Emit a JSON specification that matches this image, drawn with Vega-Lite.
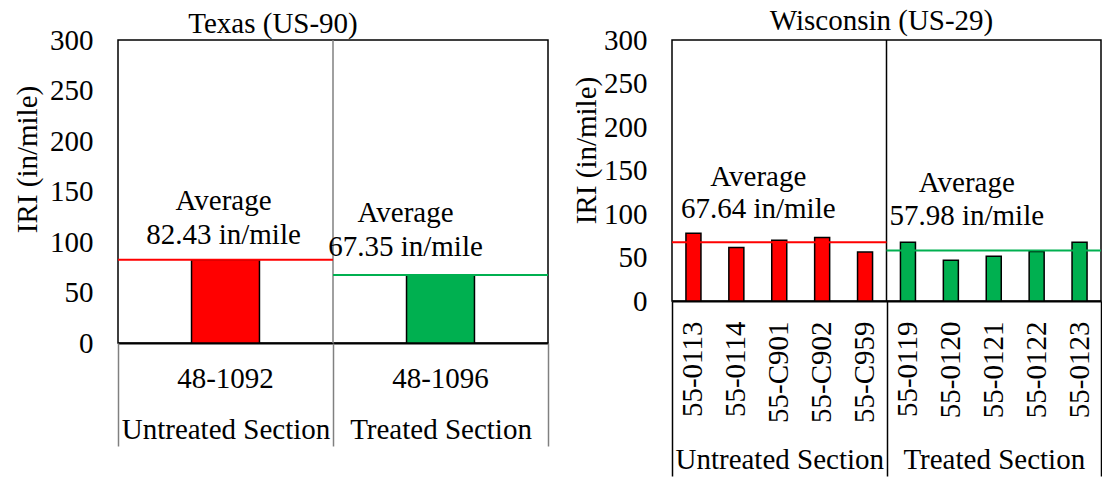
{
  "$schema": "https://vega.github.io/schema/vega-lite/v6.json",
  "padding": {"left": 12, "top": 6, "right": 0, "bottom": 0},
  "spacing": 124,
  "bounds": "flush",
  "datasets": {
    "tx": [
      {"section": "48-1092", "group": "Untreated Section", "iri": 82.43},
      {"section": "48-1096", "group": "Treated Section", "iri": 67.35}
    ],
    "txavg": [
      {"group": "Untreated Section", "avg": 82.43, "label": "Average\n82.43 in/mile"},
      {"group": "Treated Section", "avg": 67.35, "label": "Average\n67.35 in/mile"}
    ],
    "wi": [
      {"section": "55-0113", "group": "Untreated Section", "iri": 77.8},
      {"section": "55-0114", "group": "Untreated Section", "iri": 61.5},
      {"section": "55-C901", "group": "Untreated Section", "iri": 69.8},
      {"section": "55-C902", "group": "Untreated Section", "iri": 72.9},
      {"section": "55-C959", "group": "Untreated Section", "iri": 56.2},
      {"section": "55-0119", "group": "Treated Section", "iri": 67.4},
      {"section": "55-0120", "group": "Treated Section", "iri": 46.8},
      {"section": "55-0121", "group": "Treated Section", "iri": 51.4},
      {"section": "55-0122", "group": "Treated Section", "iri": 56.9},
      {"section": "55-0123", "group": "Treated Section", "iri": 67.4}
    ],
    "wiavg": [
      {"group": "Untreated Section", "avg": 67.64, "label": "Average\n67.64 in/mile"},
      {"group": "Treated Section", "avg": 57.98, "label": "Average\n57.98 in/mile"}
    ]
  },
  "hconcat": [
    {
      "width": 430,
      "height": 303,
      "title": {"text": "Texas (US-90)", "dx": -60, "offset": -42, "baseline": "bottom"},
      "resolve": {"scale": {"x": "independent"}, "axis": {"x": "independent"}},
      "layer": [
        {
          "data": {"name": "tx"},
          "mark": {"type": "bar", "stroke": "black", "strokeWidth": 1.5},
          "encoding": {
            "x": {"field": "section", "type": "nominal", "sort": null,
                  "scale": {"paddingInner": 0.684, "paddingOuter": 0.342},
                  "axis": {"title": null, "labelAngle": 0, "ticks": false, "tickSize": 0, "labelPadding": 21, "domainColor": "black", "domainWidth": 2}},
            "y": {"field": "iri", "type": "quantitative", "title": "IRI (in/mile)",
                  "scale": {"domain": [0, 300], "nice": false},
                  "axis": {"values": [0, 50, 100, 150, 200, 250, 300], "ticks": false, "domain": false, "labelPadding": 25,
                           "titleX": -91, "titleY": 119, "titleAngle": -90, "titleAlign": "center", "titleBaseline": "middle"}},
            "color": {"field": "group", "type": "nominal",
                      "scale": {"domain": ["Untreated Section", "Treated Section"], "range": ["#ff0000", "#00b050"]}, "legend": null}
          }
        },
        {
          "data": {"name": "txavg"},
          "layer": [
            {
              "mark": {"type": "rule", "color": "#808080", "strokeWidth": 1.5},
              "transform": [{"filter": "datum.group === 'Treated Section'"}],
              "encoding": {
                "x": {"field": "group", "type": "nominal", "bandPosition": 0, "title": null,
                      "scale": {"domain": ["Untreated Section", "Treated Section"], "paddingInner": 0, "paddingOuter": 0}}
              }
            },
            {
              "mark": {"type": "rect", "fillOpacity": 0, "strokeWidth": 2},
              "encoding": {
                "x": {"field": "group", "type": "nominal", "title": null,
                      "scale": {"domain": ["Untreated Section", "Treated Section"], "paddingInner": 0, "paddingOuter": 0},
                      "axis": {"orient": "bottom", "labelAngle": 0, "labelAlign": "center", "labelFlush": false, "domain": false, "tickBand": "extent", "tickSize": 103,
                               "tickColor": "#808080", "tickWidth": 1.5, "labelPadding": -17}},
                "y": {"field": "avg", "type": "quantitative", "title": "IRI (in/mile)"},
                "y2": {"field": "avg"},
                "stroke": {"field": "group", "type": "nominal",
                           "scale": {"domain": ["Untreated Section", "Treated Section"], "range": ["#ff0000", "#00b050"]}, "legend": null}
              }
            },
            {
              "mark": {"type": "text", "lineBreak": "\n", "baseline": "bottom", "lineHeight": 34, "dy": -43.5, "dx": -2},
              "transform": [{"filter": "datum.group === 'Untreated Section'"}],
              "encoding": {
                "x": {"field": "group", "type": "nominal", "title": null,
                      "scale": {"domain": ["Untreated Section", "Treated Section"], "paddingInner": 0, "paddingOuter": 0}},
                "y": {"field": "avg", "type": "quantitative", "title": "IRI (in/mile)"},
                "text": {"field": "label"}
              }
            },
            {
              "mark": {"type": "text", "lineBreak": "\n", "baseline": "bottom", "lineHeight": 34, "dy": -47, "dx": -35},
              "transform": [{"filter": "datum.group === 'Treated Section'"}],
              "encoding": {
                "x": {"field": "group", "type": "nominal", "title": null,
                      "scale": {"domain": ["Untreated Section", "Treated Section"], "paddingInner": 0, "paddingOuter": 0}},
                "y": {"field": "avg", "type": "quantitative", "title": "IRI (in/mile)"},
                "text": {"field": "label"}
              }
            }
          ]
        }
      ]
    },
    {
      "width": 429,
      "height": 261,
      "title": {"text": "Wisconsin (US-29)", "dx": -5, "offset": -39, "baseline": "bottom"},
      "resolve": {"scale": {"x": "independent"}, "axis": {"x": "independent"}},
      "layer": [
        {
          "data": {"name": "wi"},
          "mark": {"type": "bar", "stroke": "black", "strokeWidth": 1.5},
          "encoding": {
            "x": {"field": "section", "type": "nominal", "sort": null,
                  "scale": {"paddingInner": 0.65, "paddingOuter": 0.325},
                  "axis": {"title": null, "labelAngle": -90, "ticks": false, "tickSize": 0, "labelPadding": 20, "domainColor": "black", "domainWidth": 2}},
            "y": {"field": "iri", "type": "quantitative", "title": "IRI (in/mile)",
                  "scale": {"domain": [0, 300], "nice": false},
                  "axis": {"values": [0, 50, 100, 150, 200, 250, 300], "ticks": false, "domain": false, "labelPadding": 25,
                           "titleX": -86, "titleY": 110, "titleAngle": -90, "titleAlign": "center", "titleBaseline": "middle"}},
            "color": {"field": "group", "type": "nominal",
                      "scale": {"domain": ["Untreated Section", "Treated Section"], "range": ["#ff0000", "#00b050"]}, "legend": null}
          }
        },
        {
          "data": {"name": "wiavg"},
          "layer": [
            {
              "mark": {"type": "rule", "color": "black", "strokeWidth": 1.5},
              "transform": [{"filter": "datum.group === 'Treated Section'"}],
              "encoding": {
                "x": {"field": "group", "type": "nominal", "bandPosition": 0, "title": null,
                      "scale": {"domain": ["Untreated Section", "Treated Section"], "paddingInner": 0, "paddingOuter": 0}}
              }
            },
            {
              "mark": {"type": "rect", "fillOpacity": 0, "strokeWidth": 2},
              "encoding": {
                "x": {"field": "group", "type": "nominal", "title": null,
                      "scale": {"domain": ["Untreated Section", "Treated Section"], "paddingInner": 0, "paddingOuter": 0},
                      "axis": {"orient": "bottom", "labelAngle": 0, "labelAlign": "center", "labelFlush": false, "domain": false, "tickBand": "extent", "tickSize": 175,
                               "tickColor": "black", "tickWidth": 1.5, "labelPadding": -17}},
                "y": {"field": "avg", "type": "quantitative", "title": "IRI (in/mile)"},
                "y2": {"field": "avg"},
                "stroke": {"field": "group", "type": "nominal",
                           "scale": {"domain": ["Untreated Section", "Treated Section"], "range": ["#ff0000", "#00b050"]}, "legend": null}
              }
            },
            {
              "mark": {"type": "text", "lineBreak": "\n", "baseline": "bottom", "lineHeight": 32, "dy": -50, "dx": -21},
              "transform": [{"filter": "datum.group === 'Untreated Section'"}],
              "encoding": {
                "x": {"field": "group", "type": "nominal", "title": null,
                      "scale": {"domain": ["Untreated Section", "Treated Section"], "paddingInner": 0, "paddingOuter": 0}},
                "y": {"field": "avg", "type": "quantitative", "title": "IRI (in/mile)"},
                "text": {"field": "label"}
              }
            },
            {
              "mark": {"type": "text", "lineBreak": "\n", "baseline": "bottom", "lineHeight": 33, "dy": -52.5, "dx": -27},
              "transform": [{"filter": "datum.group === 'Treated Section'"}],
              "encoding": {
                "x": {"field": "group", "type": "nominal", "title": null,
                      "scale": {"domain": ["Untreated Section", "Treated Section"], "paddingInner": 0, "paddingOuter": 0}},
                "y": {"field": "avg", "type": "quantitative", "title": "IRI (in/mile)"},
                "text": {"field": "label"}
              }
            }
          ]
        }
      ]
    }
  ],
  "config": {
    "font": "Liberation Serif",
    "view": {"stroke": "black", "strokeWidth": 1.5},
    "axis": {"labelFont": "Liberation Serif", "labelFontSize": 29, "labelColor": "black", "titleFont": "Liberation Serif",
             "titleFontSize": 29, "titleFontWeight": "normal", "titleColor": "black", "grid": false, "labelOverlap": false, "labelLimit": 400},
    "title": {"font": "Liberation Serif", "fontSize": 29, "fontWeight": "normal", "color": "black"},
    "text": {"font": "Liberation Serif", "fontSize": 29, "color": "black"}
  }
}
